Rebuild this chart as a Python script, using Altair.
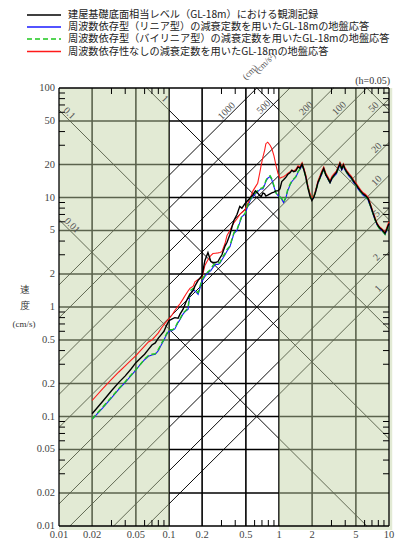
import altair as alt
import numpy as np
import pandas as pd

# ---------------- data ----------------
periods = [0.02, 0.025, 0.03, 0.035, 0.04, 0.045, 0.05, 0.055, 0.06, 0.065,
           0.07, 0.075, 0.08, 0.085, 0.09, 0.095, 0.1, 0.107, 0.113, 0.121,
           0.126, 0.134, 0.142, 0.149, 0.155, 0.166, 0.172, 0.184, 0.2, 0.212,
           0.226, 0.24, 0.251, 0.265, 0.279, 0.29, 0.303, 0.323, 0.337, 0.358,
           0.374, 0.39, 0.415, 0.44, 0.46, 0.49, 0.52, 0.55, 0.58, 0.61,
           0.64, 0.67, 0.69, 0.715, 0.74, 0.76, 0.79, 0.83, 0.86, 0.9,
           0.94, 0.98, 1.02, 1.06, 1.1, 1.15, 1.2, 1.26, 1.31, 1.36,
           1.42, 1.49, 1.55, 1.62, 1.68, 1.75, 1.83, 1.91, 1.99, 2.07,
           2.15, 2.26, 2.36, 2.45, 2.55, 2.67, 2.8, 2.91, 3.03, 3.17,
           3.32, 3.45, 3.58, 3.72, 3.85, 3.98, 4.15, 4.34, 4.55, 4.78,
           5.0, 5.23, 5.5, 5.8, 6.1, 6.45, 6.8, 7.1, 7.45, 7.8,
           8.2, 8.6, 8.9, 9.2, 9.6, 10.0]

observed = [0.106, 0.138, 0.172, 0.205, 0.235, 0.27, 0.31, 0.34, 0.37, 0.41,
            0.45, 0.47, 0.52, 0.56, 0.60, 0.68, 0.75, 0.78, 0.80, 0.79,
            0.86, 0.95, 1.10, 1.22, 1.30, 1.42, 1.55, 1.75, 1.94, 2.66,
            3.14, 2.60, 2.55, 2.55, 2.60, 2.80, 3.00, 3.60, 3.90, 4.60,
            5.40, 6.20, 7.00, 8.30, 8.00, 8.80, 9.40, 10.0, 10.6, 11.5,
            11.0, 10.4, 10.2, 11.0, 10.8, 10.3, 10.5, 10.8, 11.0, 11.2,
            11.5, 11.5, 12.0, 14.0, 14.5, 15.2, 16.2, 16.8, 17.7, 17.2,
            17.5, 19.0, 18.5, 20.2, 18.0, 15.5, 12.3, 10.3, 9.4, 10.0,
            11.2, 13.7, 15.2, 16.8, 18.4, 16.0, 14.8, 13.7, 15.0, 16.0,
            16.9, 18.6, 20.4, 18.2, 19.8, 18.2, 17.0, 16.0, 15.2, 14.0,
            13.2, 12.3, 11.5, 10.8, 10.4, 9.8, 8.4, 7.4, 6.4, 5.7,
            5.3, 5.1, 4.9, 4.7, 5.2, 5.8]

linear = [0.094, 0.120, 0.148, 0.178, 0.205, 0.235, 0.265, 0.30, 0.33, 0.355,
          0.365, 0.37, 0.40, 0.45, 0.50, 0.56, 0.60, 0.61, 0.63, 0.72,
          0.77, 0.86, 0.92, 0.95, 1.30, 1.44, 1.40, 1.30, 1.72, 1.90,
          2.05, 2.15, 2.30, 2.45, 2.45, 2.50, 2.70, 3.00, 3.25, 3.55,
          4.10, 4.70, 5.00, 5.90, 6.70, 7.00, 8.30, 9.50, 10.2, 10.8,
          11.3, 11.8, 12.0, 12.0, 13.0, 14.0, 15.0, 15.5, 14.5, 12.5,
          11.0, 10.4, 10.2, 9.6, 9.0, 9.8, 11.5, 13.0, 14.0, 14.6,
          15.3, 17.0, 18.0, 19.6, 18.2, 15.6, 12.6, 10.6, 9.6, 10.0,
          11.4, 13.6, 15.0, 16.3, 18.0, 16.0, 14.5, 13.6, 14.8, 15.6,
          16.4, 18.0, 19.8, 17.8, 19.2, 17.8, 16.6, 15.6, 14.8, 13.6,
          12.9, 12.0, 11.2, 10.5, 10.1, 9.5, 8.2, 7.2, 6.3, 5.6,
          5.2, 5.0, 4.8, 4.6, 5.1, 5.7]

bilinear = [0.095, 0.122, 0.150, 0.180, 0.208, 0.238, 0.268, 0.30, 0.335, 0.36,
            0.37, 0.375, 0.41, 0.46, 0.51, 0.57, 0.62, 0.62, 0.64, 0.74,
            0.78, 0.88, 0.93, 0.98, 1.40, 1.48, 1.45, 1.35, 1.80, 1.95,
            2.10, 2.20, 2.40, 2.50, 2.52, 2.55, 2.80, 3.08, 3.35, 3.60,
            4.20, 4.80, 5.10, 6.00, 6.80, 7.10, 8.50, 9.70, 10.4, 11.0,
            11.6, 12.0, 12.2, 12.3, 13.2, 14.3, 15.3, 15.8, 14.8, 12.8,
            11.0, 10.4, 10.1, 9.8, 9.1, 10.0, 11.8, 13.2, 14.2, 14.8,
            15.5, 17.3, 18.2, 19.8, 18.0, 15.4, 12.4, 10.5, 9.6, 10.1,
            11.3, 13.5, 15.0, 16.5, 18.2, 15.9, 14.6, 13.8, 14.9, 15.8,
            16.6, 18.3, 20.0, 18.0, 19.5, 18.0, 16.8, 15.8, 15.0, 13.8,
            13.0, 12.1, 11.3, 10.6, 10.2, 9.6, 8.3, 7.3, 6.3, 5.6,
            5.2, 5.0, 4.8, 4.6, 5.1, 5.7]

no_freq = [0.140, 0.180, 0.218, 0.255, 0.290, 0.325, 0.36, 0.40, 0.44, 0.48,
           0.50, 0.54, 0.58, 0.64, 0.69, 0.74, 0.78, 0.85, 0.93, 1.02,
           1.07, 1.18, 1.30, 1.40, 1.48, 1.55, 1.70, 1.78, 1.86, 2.40,
           2.70, 2.95, 3.08, 3.10, 3.12, 3.14, 3.20, 3.80, 4.50, 5.00,
           5.50, 5.90, 6.40, 7.00, 7.30, 7.70, 8.80, 10.0, 11.5, 12.5,
           13.5, 17.0, 20.0, 23.5, 27.0, 31.0, 32.0, 30.0, 28.0, 24.0,
           19.5, 16.5, 15.0, 15.3, 15.5, 16.0, 16.6, 17.2, 17.8, 17.5,
           18.0, 19.5, 19.0, 20.8, 18.6, 16.2, 12.9, 11.0, 9.9, 10.4,
           11.6, 14.2, 15.8, 17.5, 19.0, 16.6, 15.3, 14.2, 15.6, 16.5,
           17.4, 19.2, 21.0, 18.8, 20.4, 18.8, 17.5, 16.5, 15.6, 14.4,
           13.6, 12.7, 11.8, 11.1, 10.7, 10.1, 8.7, 7.6, 6.6, 5.8,
           5.4, 5.2, 5.0, 4.8, 5.4, 6.0]

legend_labels = [
    "建屋基礎底面相当レベル（GL-18m）における観測記録",
    "周波数依存型（リニア型）の減衰定数を用いたGL-18mの地盤応答",
    "周波数依存型（バイリニア型）の減衰定数を用いたGL-18mの地盤応答",
    "周波数依存性なしの減衰定数を用いたGL-18mの地盤応答",
]

accel_levels = [1, 2, 5, 10, 20, 50, 100, 200, 500, 1000]       # cm/s^2
disp_levels = [0.01, 0.1, 1, 10, 100]                              # cm
grid_t = [0.02, 0.05, 0.1, 0.2, 0.5, 1, 2, 5]
grid_v = [0.02, 0.05, 0.1, 0.2, 0.5, 1, 2, 5, 10, 20, 50]
minor_t = [0.03, 0.04, 0.06, 0.07, 0.08, 0.09, 0.3, 0.4, 0.6, 0.7, 0.8, 0.9,
           3, 4, 6, 7, 8, 9]
minor_v = [0.03, 0.04, 0.06, 0.07, 0.08, 0.09, 0.3, 0.4, 0.6, 0.7, 0.8, 0.9,
           3, 4, 6, 7, 8, 9, 30, 40, 60, 70, 80, 90]
x_ticks = [0.01, 0.02, 0.05, 0.1, 0.2, 0.5, 1, 2, 5, 10]
y_ticks = [0.01, 0.02, 0.05, 0.1, 0.2, 0.5, 1, 2, 5, 10, 20, 50, 100]

accel_label_pos = [(1000, 0.36), (500, 0.78), (200, 1.9), (100, 3.8), (50, 7.8),
                   (20, 8.3), (10, 8.3), (5, 8.3), (2, 8.3), (1, 8.6)]
disp_label_pos = [(0.1, 0.0115), (0.01, 0.0122), (1, 0.085)]

# ---------------- layout ----------------
W, H = 330, 438
T0, T1, V0, V1 = 0.01, 10.0, 0.01, 100.0
xs = alt.Scale(type="log", domain=[T0, T1], nice=False)
ys = alt.Scale(type="log", domain=[V0, V1], nice=False)
SERIF = "Liberation Serif"
CJK = "Noto Sans CJK JP"
one = pd.DataFrame({"a": [0]})

def X(f):
    return alt.X(f, scale=xs, axis=None)

def Y(f):
    return alt.Y(f, scale=ys, axis=None)

# tripartite diagonals
rows = []
for sa in accel_levels:
    k = sa / (2 * np.pi)
    ta, tb = max(T0, V0 / k), min(T1, V1 / k)
    if ta < tb:
        rows.append({"t1": ta, "v1": k * ta, "t2": tb, "v2": k * tb})
for sd in disp_levels:
    c = 2 * np.pi * sd
    ta, tb = max(T0, c / V1), min(T1, c / V0)
    if ta < tb:
        rows.append({"t1": ta, "v1": c / ta, "t2": tb, "v2": c / tb})
diag_df = pd.DataFrame(rows)

diag = alt.Chart(diag_df).mark_rule(color="black", strokeWidth=0.95).encode(
    x=X("t1:Q"), y=Y("v1:Q"), x2="t2:Q", y2="v2:Q")

vgrid = alt.Chart(pd.DataFrame({"t": grid_t, "lo": V0, "hi": V1})).mark_rule(
    color="black", strokeWidth=1.6).encode(x=X("t:Q"), y=Y("lo:Q"), y2="hi:Q")
hgrid = alt.Chart(pd.DataFrame({"v": grid_v, "lo": T0, "hi": T1})).mark_rule(
    color="black", strokeWidth=1.6).encode(y=Y("v:Q"), x=X("lo:Q"), x2="hi:Q")

shade = alt.Chart(pd.DataFrame({"t1": [0.01, 1.0], "t2": [0.1, 10.7],
                                "v1": [0.0092, 0.0092], "v2": [100, 100]})).mark_rect(
    color="#c2d3a4", opacity=0.47).encode(x=X("t1:Q"), x2="t2:Q", y=Y("v1:Q"), y2="v2:Q")

# minor ticks (inward)
tick_t = pd.DataFrame({"t": minor_t})
tick_v = pd.DataFrame({"v": minor_v})
mt = [
    alt.Chart(tick_t).mark_rule(color="black", strokeWidth=1).encode(
        x=X("t:Q"), y=alt.value(H - 6), y2=alt.value(H)),
    alt.Chart(tick_t).mark_rule(color="black", strokeWidth=1).encode(
        x=X("t:Q"), y=alt.value(0), y2=alt.value(6)),
    alt.Chart(tick_v).mark_rule(color="black", strokeWidth=1).encode(
        y=Y("v:Q"), x=alt.value(0), x2=alt.value(6)),
    alt.Chart(tick_v).mark_rule(color="black", strokeWidth=1).encode(
        y=Y("v:Q"), x=alt.value(W - 6), x2=alt.value(W)),
]

frame = [
    alt.Chart(one).mark_rule(color="black", strokeWidth=1.3).encode(
        x=alt.value(0), y=alt.value(0), y2=alt.value(H)),
    alt.Chart(one).mark_rule(color="black", strokeWidth=1.3).encode(
        x=alt.value(W), y=alt.value(0), y2=alt.value(H)),
    alt.Chart(one).mark_rule(color="black", strokeWidth=1.3).encode(
        y=alt.value(0), x=alt.value(0), x2=alt.value(W)),
    alt.Chart(one).mark_rule(color="black", strokeWidth=1.3).encode(
        y=alt.value(H), x=alt.value(0), x2=alt.value(W)),
]

# tick labels
xlab = alt.Chart(pd.DataFrame({"t": x_ticks, "s": [f"{v:g}" for v in x_ticks]})).mark_text(
    font=SERIF, fontSize=10.5, color="#444", baseline="middle", align="center").encode(
    x=X("t:Q"), y=alt.value(H + 9), text="s:N")
ylab = alt.Chart(pd.DataFrame({"v": y_ticks, "s": [f"{v:g}" for v in y_ticks]})).mark_text(
    font=SERIF, fontSize=10.5, color="#444", baseline="middle", align="right").encode(
    y=Y("v:Q"), x=alt.value(-4), text="s:N")

def curve(vals, color, width, dash=None):
    df = pd.DataFrame({"T": periods, "V": vals})
    kw = dict(color=color, strokeWidth=width)
    if dash:
        kw["strokeDash"] = dash
    return alt.Chart(df).mark_line(**kw).encode(x=X("T:Q"), y=Y("V:Q"), order="T:Q")

curves = [
    curve(linear, "#1a1aff", 1.1),
    curve(no_freq, "#ff1a1a", 1.1),
    curve(bilinear, "#1ec81e", 1.4, [5, 3]),
    curve(observed, "black", 1.4),
]

acc_lab = pd.DataFrame({
    "T": [p[1] for p in accel_label_pos],
    "V": [p[0] * p[1] / (2 * np.pi) for p in accel_label_pos],
    "txt": [str(p[0]) for p in accel_label_pos]})
disp_lab = pd.DataFrame({
    "T": [p[1] for p in disp_label_pos],
    "V": [2 * np.pi * p[0] / p[1] for p in disp_label_pos],
    "txt": [str(p[0]) for p in disp_label_pos]})

acc_text = alt.Chart(acc_lab).mark_text(
    angle=315, font=SERIF, fontSize=10, color="#555", dy=-5).encode(
    x=X("T:Q"), y=Y("V:Q"), text="txt:N")
disp_text = alt.Chart(disp_lab).mark_text(
    angle=45, font=SERIF, fontSize=10, color="#555", dy=-5).encode(
    x=X("T:Q"), y=Y("V:Q"), text="txt:N")

def label(txt, x, y, font=SERIF, size=10, align="center", angle=0, color="#333"):
    kw = dict(text=txt, font=font, fontSize=size, align=align, baseline="middle",
              color=color)
    if angle:
        kw["angle"] = angle
    return alt.Chart(one).mark_text(**kw).encode(x=alt.value(x), y=alt.value(y))

extras = [
    label("(h=0.05)", W + 1, -7, align="right", size=10),
    label("(cm)", 191, -16, angle=315, size=9, color="#555"),
    label("(cm/s²)", 206, -25, angle=315, size=9, color="#555"),
    label("速", -34, 202, size=10),
    label("度", -34, 218, size=10),
    label("(cm/s)", -35, 236, size=9),
]

legend_colors = ["black", "#1a1aff", "#1ec81e", "#ff1a1a"]
legend_y = [-73, -61, -49, -36.5]
legend = []
for name, col, yy in zip(legend_labels, legend_colors, legend_y):
    kw = dict(color=col, strokeWidth=1.6)
    if col == "#1ec81e":
        kw["strokeDash"] = [5, 3]
    legend.append(alt.Chart(one).mark_rule(**kw).encode(
        x=alt.value(-32), x2=alt.value(2), y=alt.value(yy)))
    legend.append(label(name, 9, yy, font=CJK, size=10.2, align="left", color="#222"))

chart = alt.layer(
    vgrid, hgrid, diag, shade, *mt, *frame, *curves, xlab, ylab,
    acc_text, disp_text, *extras, *legend
).properties(
    width=W, height=H,
    padding={"left": 51, "top": 80, "right": 8, "bottom": 14},
    autosize=alt.AutoSizeParams(type="none"),
    background="white",
).configure_view(strokeWidth=0)

chart.save("out.html", embed_options={"renderer": "svg", "actions": False})
